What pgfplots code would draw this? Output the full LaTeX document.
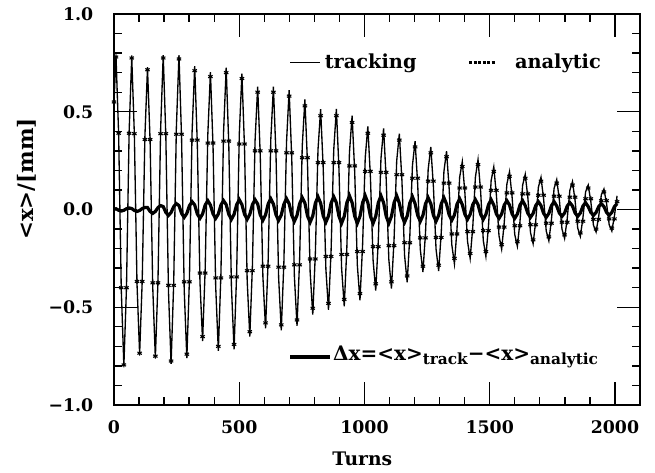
\documentclass[border=0pt]{standalone}
\usepackage{fontspec}
\setmainfont{DejaVu Serif}
\usepackage{pgfplots}
\usepackage{pgfplotstable}
\pgfplotsset{compat=1.18}
\pgfplotstableread{
t a d tr
0 0.55 0 0.55
8.0 0.78 0.004 0.784
18.5 0.39 -0.004 0.386
29.0 -0.40 -0.008 -0.408
39.4 -0.795 -0.004 -0.799
49.9 -0.40 0.004 -0.396
60.4 0.39 0.008 0.398
70.8 0.775 0.005 0.780
81.3 0.388 -0.005 0.383
91.8 -0.368 -0.01 -0.378
102.3 -0.735 -0.005 -0.740
112.7 -0.368 0.005 -0.363
123.2 0.358 0.01 0.368
133.7 0.715 0.01 0.725
144.2 0.358 -0.01 0.348
154.6 -0.375 -0.02 -0.395
165.1 -0.75 -0.01 -0.76
175.6 -0.375 0.01 -0.365
186.1 0.388 0.02 0.408
196.5 0.775 0.015 0.790
207.0 0.388 -0.015 0.373
217.5 -0.388 -0.03 -0.418
227.9 -0.775 -0.015 -0.790
238.4 -0.388 0.015 -0.373
248.9 0.385 0.03 0.415
259.4 0.77 0.02 0.79
269.8 0.385 -0.02 0.365
280.3 -0.37 -0.04 -0.41
290.8 -0.74 -0.02 -0.76
301.3 -0.37 0.02 -0.35
311.7 0.355 0.04 0.395
322.2 0.71 0.023 0.733
332.7 0.355 -0.023 0.332
343.2 -0.325 -0.045 -0.37
353.6 -0.65 -0.023 -0.673
364.1 -0.325 0.023 -0.302
374.6 0.34 0.045 0.385
385.0 0.68 0.023 0.703
395.5 0.34 -0.023 0.317
406.0 -0.35 -0.045 -0.395
416.5 -0.70 -0.023 -0.723
426.9 -0.35 0.023 -0.327
437.4 0.35 0.045 0.395
447.9 0.70 0.025 0.725
458.4 0.35 -0.025 0.325
468.8 -0.345 -0.05 -0.395
479.3 -0.69 -0.025 -0.715
489.8 -0.345 0.025 -0.32
500.2 0.335 0.05 0.385
510.7 0.67 0.025 0.695
521.2 0.335 -0.025 0.31
531.7 -0.313 -0.05 -0.363
542.1 -0.625 -0.025 -0.65
552.6 -0.313 0.025 -0.288
563.1 0.30 0.05 0.35
573.6 0.60 0.028 0.628
584.0 0.30 -0.028 0.272
594.5 -0.29 -0.055 -0.345
605.0 -0.58 -0.028 -0.608
615.4 -0.29 0.028 -0.262
625.9 0.30 0.055 0.355
636.4 0.60 0.028 0.628
646.9 0.30 -0.028 0.272
657.3 -0.295 -0.055 -0.35
667.8 -0.59 -0.028 -0.618
678.3 -0.295 0.028 -0.267
688.8 0.29 0.055 0.345
699.2 0.58 0.03 0.61
709.7 0.29 -0.03 0.26
720.2 -0.283 -0.06 -0.343
730.7 -0.565 -0.03 -0.595
741.1 -0.283 0.03 -0.253
751.6 0.265 0.06 0.325
762.1 0.53 0.033 0.563
772.6 0.265 -0.033 0.232
783.0 -0.253 -0.065 -0.318
793.5 -0.505 -0.033 -0.538
804.0 -0.253 0.033 -0.22
814.4 0.24 0.065 0.305
824.9 0.48 0.033 0.513
835.4 0.24 -0.033 0.207
845.9 -0.24 -0.065 -0.305
856.3 -0.48 -0.033 -0.513
866.8 -0.24 0.033 -0.207
877.3 0.24 0.065 0.305
887.8 0.48 0.035 0.515
898.2 0.24 -0.035 0.205
908.7 -0.23 -0.07 -0.30
919.2 -0.46 -0.035 -0.495
929.6 -0.23 0.035 -0.195
940.1 0.223 0.07 0.293
950.6 0.445 0.035 0.48
961.1 0.223 -0.035 0.188
971.5 -0.215 -0.07 -0.285
982.0 -0.43 -0.035 -0.465
992.5 -0.215 0.035 -0.18
1003.0 0.195 0.07 0.265
1013.4 0.39 0.035 0.425
1023.9 0.195 -0.035 0.16
1034.4 -0.19 -0.07 -0.26
1044.9 -0.38 -0.035 -0.415
1055.3 -0.19 0.035 -0.155
1065.8 0.19 0.07 0.26
1076.3 0.38 0.035 0.415
1086.7 0.19 -0.035 0.155
1097.2 -0.185 -0.07 -0.255
1107.7 -0.37 -0.035 -0.405
1118.2 -0.185 0.035 -0.15
1128.6 0.178 0.07 0.248
1139.1 0.355 0.033 0.388
1149.6 0.178 -0.033 0.145
1160.1 -0.17 -0.065 -0.235
1170.5 -0.34 -0.033 -0.373
1181.0 -0.17 0.033 -0.137
1191.5 0.16 0.065 0.225
1202.0 0.32 0.03 0.35
1212.4 0.16 -0.03 0.13
1222.9 -0.145 -0.06 -0.205
1233.4 -0.29 -0.03 -0.32
1243.8 -0.145 0.03 -0.115
1254.3 0.145 0.06 0.205
1264.8 0.29 0.03 0.32
1275.3 0.145 -0.03 0.115
1285.7 -0.143 -0.06 -0.203
1296.2 -0.285 -0.03 -0.315
1306.7 -0.143 0.03 -0.113
1317.2 0.135 0.06 0.195
1327.6 0.27 0.028 0.298
1338.1 0.135 -0.028 0.107
1348.6 -0.125 -0.055 -0.18
1359.1 -0.25 -0.028 -0.278
1369.5 -0.125 0.028 -0.097
1380.0 0.11 0.055 0.165
1390.5 0.22 0.025 0.245
1400.9 0.11 -0.025 0.085
1411.4 -0.113 -0.05 -0.163
1421.9 -0.225 -0.025 -0.25
1432.4 -0.113 0.025 -0.088
1442.8 0.115 0.05 0.165
1453.3 0.23 0.025 0.255
1463.8 0.115 -0.025 0.09
1474.3 -0.108 -0.05 -0.158
1484.7 -0.215 -0.025 -0.24
1495.2 -0.108 0.025 -0.083
1505.7 0.098 0.05 0.148
1516.2 0.195 0.023 0.218
1526.6 0.098 -0.023 0.075
1537.1 -0.09 -0.045 -0.135
1547.6 -0.18 -0.023 -0.203
1558.0 -0.09 0.023 -0.067
1568.5 0.085 0.045 0.13
1579.0 0.17 0.023 0.193
1589.5 0.085 -0.023 0.062
1599.9 -0.083 -0.045 -0.128
1610.4 -0.165 -0.023 -0.188
1620.9 -0.083 0.023 -0.06
1631.4 0.08 0.045 0.125
1641.8 0.16 0.02 0.18
1652.3 0.08 -0.02 0.06
1662.8 -0.078 -0.04 -0.118
1673.3 -0.155 -0.02 -0.175
1683.7 -0.078 0.02 -0.058
1694.2 0.073 0.04 0.113
1704.7 0.145 0.02 0.165
1715.2 0.073 -0.02 0.053
1725.6 -0.07 -0.04 -0.11
1736.1 -0.14 -0.02 -0.16
1746.6 -0.07 0.02 -0.05
1757.0 0.068 0.04 0.108
1767.5 0.135 0.018 0.153
1778.0 0.068 -0.018 0.05
1788.5 -0.065 -0.035 -0.10
1798.9 -0.13 -0.018 -0.148
1809.4 -0.065 0.018 -0.047
1819.9 0.063 0.035 0.098
1830.4 0.125 0.018 0.143
1840.8 0.063 -0.018 0.045
1851.3 -0.06 -0.035 -0.095
1861.8 -0.12 -0.018 -0.138
1872.2 -0.06 0.018 -0.042
1882.7 0.055 0.035 0.09
1893.2 0.11 0.015 0.125
1903.7 0.055 -0.015 0.04
1914.1 -0.05 -0.03 -0.08
1924.6 -0.10 -0.015 -0.115
1935.1 -0.05 0.015 -0.035
1945.6 0.045 0.03 0.075
1956.0 0.09 0.015 0.105
1966.5 0.045 -0.015 0.03
1977.0 -0.048 -0.03 -0.078
1987.5 -0.095 -0.015 -0.11
1997.9 -0.048 0.015 -0.033
2008.4 0.04 0.03 0.07
}\data

\newcommand{\sub}[1]{\raisebox{-0.45ex}{\fontsize{11.5}{12}\selectfont #1}}

\begin{document}
\begin{tikzpicture}
\begin{axis}[
  scale only axis,
  width=394.5pt, height=293.25pt,
  xmin=0, xmax=2100, ymin=-1, ymax=1,
  xtick={0,500,1000,1500,2000},
  xticklabels={0,500,1000,1500,2000},
  ytick={-1,-0.5,0,0.5,1},
  yticklabels={−1.0,−0.5,0.0,0.5,1.0},
  minor x tick num=4, minor y tick num=4,
  tick align=inside,
  major tick length=17pt, minor tick length=6pt,
  tick style={black, line width=1pt},
  axis line style={line width=1.3pt},
  tick label style={font=\bfseries\fontsize{13}{15}\selectfont},
  xticklabel style={yshift=-8pt},
  yticklabel style={xshift=-12pt},
  xlabel={Turns},
  ylabel={<x>/[mm]},
  xlabel style={font=\bfseries\fontsize{14}{16}\selectfont, at={(axis description cs:0.472,-0.138)}, anchor=center},
  ylabel style={font=\bfseries\fontsize{16}{18}\selectfont, at={(axis description cs:-0.165,0.578)}, anchor=center},
]
\addplot[black, line width=1pt] table[x=t, y=tr] {\data};
\addplot[black, only marks, mark=asterisk, mark size=1.9pt, mark options={line width=0.8pt}] table[x=t, y=a] {\data};
\addplot[black, line width=2.4pt, line join=miter] table[x=t, y=d] {\data};

\draw[black, line width=0.9pt] (rel axis cs:0.335,0.875) -- (rel axis cs:0.392,0.875)
  node[anchor=west, font=\bfseries\fontsize{14.5}{16}\selectfont, inner sep=3pt] {tracking};
\draw[black, line width=2.2pt, dash pattern=on 2.2pt off 1.2pt] (rel axis cs:0.675,0.875) -- (rel axis cs:0.724,0.875);
\node[anchor=west, font=\bfseries\fontsize{14.5}{16}\selectfont, inner sep=0pt] at (rel axis cs:0.762,0.875) {analytic};
\draw[black, line width=2.4pt] (rel axis cs:0.335,0.123) -- (rel axis cs:0.411,0.123)
  node[anchor=west, font=\bfseries\fontsize{15}{17}\selectfont, inner sep=1pt] {Δx=<x>\sub{track}−<x>\sub{analytic}};
\end{axis}
\pgfresetboundingbox
\path (-85.5pt,-50.25pt) rectangle (405.75pt,303.75pt);
\end{tikzpicture}
\end{document}
